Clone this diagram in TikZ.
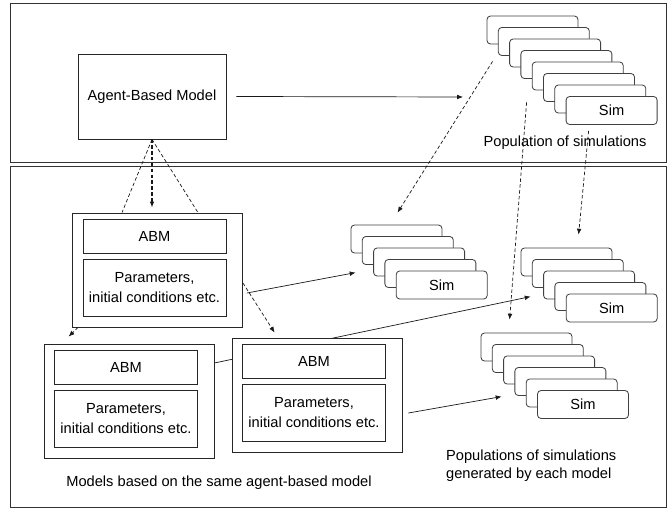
\documentclass[tikz,border=0pt]{standalone}
\usepackage{fontspec}
\setmainfont{Liberation Sans}
\usetikzlibrary{arrows.meta, calc}
\tikzset{
  frame/.style={draw=black!80, line width=0.7pt},
  bigbox/.style={draw=black!85, fill=white, line width=0.7pt, minimum width=4.44cm, minimum height=2.55cm},
  outerbox/.style={draw=black!85, fill=white, line width=0.7pt, minimum width=5.1cm, minimum height=3.42cm},
  innerabm/.style={draw=black!85, fill=white, line width=0.7pt, minimum width=4.29cm, minimum height=1.02cm},
  innerpar/.style={draw=black!85, fill=white, line width=0.7pt, minimum width=4.29cm, minimum height=1.71cm, align=center},
  card/.style={draw=black!75, fill=white, line width=0.7pt, rounded corners=3pt, minimum width=2.73cm, minimum height=0.84cm},
  link/.style={black!90, line width=0.6pt},
  dlink/.style={black!90, line width=0.6pt, dash pattern=on 3pt off 2pt},
}
\newcommand{\modelbox}[3]{% name, x, y
  \node[outerbox] (#1) at (#2,#3) {};
  \node[innerabm] (#1abm) at ($(#1)+(-3,-34)$) {ABM};
  \node[innerpar] (#1par) at ($(#1)+(-3,17.5)$) {Parameters,\\initial conditions etc.};
}
\newcommand{\simstack}[4]{% name, x, y, number of cards
  \foreach \i in {1,...,#4} {
    \node[card] (#1\i) at ({#2+11.3*(\i-1)},{#3+11.5*(\i-1)}) {\ifnum\i=#4 Sim\fi};
  }
}

\begin{document}
\begin{tikzpicture}[x=0.03cm, y=-0.03cm, >={Latex[length=5pt,width=4pt]}, font=\fontsize{12.5}{17}\selectfont]
\useasboundingbox (0,0) rectangle (668,508);
\draw[frame] (10,3) rectangle (666,162);
\draw[frame] (10,166) rectangle (666,507);

% top level
\node[bigbox] (abm) at (152,96.5) {Agent-Based Model};
\simstack{top}{532.5}{30}{8}
\node (toplabel) at (565,143) {Population of simulations};
\coordinate (topend) at (463,97);
\draw[link, ->] ([xshift=0.3cm]abm.east) -- (topend);

% populations of the models
\simstack{popA}{396.5}{239}{5}
\simstack{popC}{566.5}{262}{5}
\simstack{popB}{526.5}{347}{6}

% models
\modelbox{modA}{157.5}{270}
\modelbox{modC}{129}{401}
\draw[link, ->] ($(modC.east)+(0,-38)$) -- ($(popC1.north west)+(10,49)$);
\modelbox{modB}{317}{395}

\draw[link, ->] ($(modA.east)+(4,23)$) -- ($(popA1.north west)+(5,48)$);
\draw[link, ->] ($(modB.east)+(6,18)$) -- ($(popB1.north west)+(21,64)$);

% derived from the agent-based model
\draw[dlink] (abm.south) -- ($(modA.north)+(-35.5,0)$);
\draw[dlink] (abm.south) -- ($(modA.north)+(40.5,0)$);
\draw[dlink, line width=1pt, ->] (abm.south) -- ($(abm.south |- modA.north)+(0,-5)$);
\draw[dlink, ->] ($(modA.south west)+(6,0)$) -- ($(modC.north west)+(25,-7)$);
\draw[dlink, ->] ($(modA.east)+(0,13)$) -- ($(modB.north west)+(43,-5)$);

% from the population of simulations
\draw[dlink, ->] ($(top1.south west)+(6,17)$) -- ($(popA1.north west)+(47,-12)$);
\draw[dlink, ->] ($(top1.south west)+(40,58)$) -- ($(popB1.north west)+(29,-13)$);
\draw[dlink, ->] ($(top8.south)+(-23,6)$) -- ($(popC1.north west)+(58,-13)$);

\node (modlabel) at (219,483) {Models based on the same agent-based model};
\node[align=left, anchor=west, font=\fontsize{12.5}{15.5}\selectfont] (poplabel) at (442,466) {Populations of simulations\\generated by each model};
\end{tikzpicture}
\end{document}
